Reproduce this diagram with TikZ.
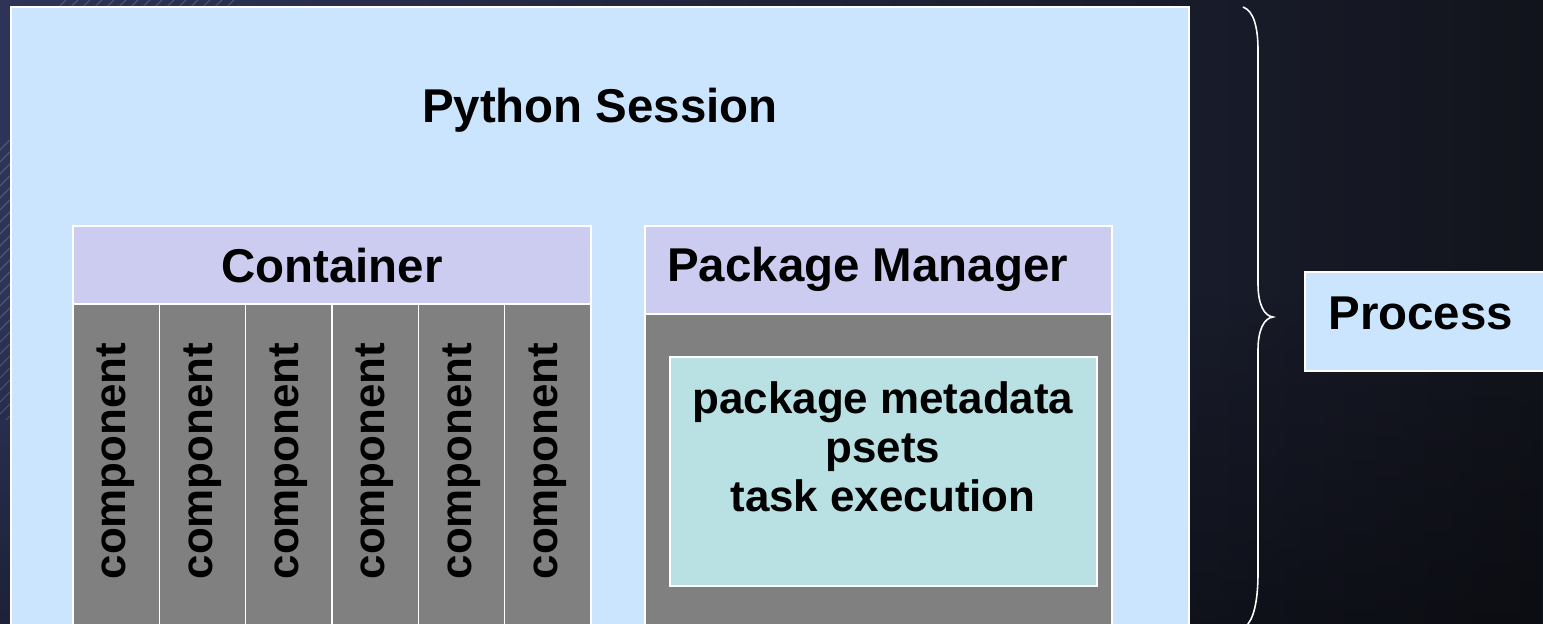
\documentclass[tikz,border=0pt]{standalone}
\usepackage{fontspec}
\setmainfont{Liberation Sans}
\definecolor{psNavy}{HTML}{2D3458}
\definecolor{psInk}{HTML}{12141C}
\definecolor{psBlue}{HTML}{CCE5FF}
\definecolor{psLilac}{HTML}{CCCCF0}
\definecolor{psGrey}{HTML}{808080}
\definecolor{psTeal}{HTML}{B9E0E3}
\usetikzlibrary{calc,positioning,fadings}

\tikzset{
  panel/.style={draw=white, line width=0.7pt},
  headtext/.style={font=\fontsize{27}{32}\selectfont\bfseries, inner sep=0pt},
  bodytext/.style={font=\fontsize{25}{28}\selectfont\bfseries, inner sep=0pt},
}

\begin{document}
\begin{tikzpicture}[x=0.02cm, y=-0.02cm]
  \useasboundingbox (0,0) rectangle (1543,624);
  \clip (0,0) rectangle (1543,624);
  % backdrop
  \shade[left color=psNavy, right color=psInk] (0,0) rectangle (1543,624);
  \fill[black, opacity=0.35, path fading=north] (0,300) rectangle (1543,624);
  \begin{scope}
    \clip (55,0) rectangle (240,7) (0,140) rectangle (11,420);
    \foreach \s in {-400,-388,...,260}
      \draw[white, opacity=0.18, line width=0.6pt] (\s,430) -- ++(430,-430);
  \end{scope}

  % session box
  \fill[psBlue, panel] (11,7) rectangle (1189,640);
  \node[headtext, anchor=base] (session) at (600,123) {Python Session};

  % container with its components
  \fill[psLilac, panel] (73,226) rectangle (591,304);
  \node[headtext, anchor=base] (container) at (332,283) {Container};
  \foreach \i in {1,...,6} {
    \fill[psGrey, panel] ({73+(\i-1)*86.33},304) rectangle ({73+\i*86.33},640);
    \node[bodytext, rotate=90] (comp\i) at ({73+(\i-0.5)*86.33},461) {component};
  }

  % package manager
  \fill[psLilac, panel] (645,226) rectangle (1112,314);
  \node[headtext, anchor=base west] (pkgmgr) at (667,282) {Package Manager};
  \fill[psGrey, panel] (645,314) rectangle (1112,640);
  \fill[psTeal, panel] (670,357) rectangle (1097,586);
  \node[bodytext, align=center, anchor=north] (pkgdata) at (883,381)
    {package metadata\\psets\\task execution};

  % brace and process label
  \draw[white, line width=0.9pt]
    (1243,7) .. controls (1254,11) and (1258,28) .. (1258,50)
    -- (1258,284) .. controls (1258,304) and (1264,316) .. (1273,317)
    .. controls (1264,318) and (1258,330) .. (1258,350)
    -- (1258,573) .. controls (1258,600) and (1254,620) .. (1245,627);
  \fill[psBlue, panel] (1305,272) rectangle (1560,371);
  \node[headtext, anchor=base west] (process) at (1328,330) {Process};
\end{tikzpicture}
\end{document}
